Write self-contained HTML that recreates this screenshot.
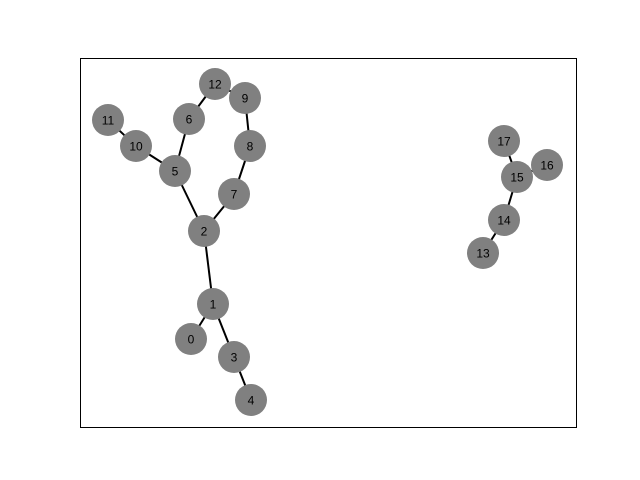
<!DOCTYPE html>
<html><head><meta charset="utf-8"><style>
body{margin:0;background:#fff;}
svg{display:block;font-family:"Liberation Sans","DejaVu Sans",sans-serif;}
</style></head><body>
<svg id="chart" width="640" height="480">
<rect x="80.5" y="58.5" width="496" height="369" fill="#fff" stroke="#000" stroke-width="1"/>
<g id="edges"></g><g id="nodes"></g>
</svg>
<script>
const nodeLabels = [0,1,2,3,4,5,6,7,8,9,10,11,12,13,14,15,16,17];
const nodeX = [191,213,204,234,251,175,189,234,250,245,136,108,215,483,504,517,547,504];
const nodeY = [339,304,231,357,400,171,119,194,146,98,146,120,84,253,220,177,165,141];
const edgeFrom = [0,1,1,3,2,2,5,5,10,6,12,9,8,13,14,15,15];
const edgeTo   = [1,2,3,4,5,7,6,10,11,12,9,8,7,14,15,16,17];
const NS='http://www.w3.org/2000/svg';
const eg=document.getElementById('edges'), ng=document.getElementById('nodes');
for(let i=0;i<edgeFrom.length;i++){
  const a=edgeFrom[i], b=edgeTo[i];
  const l=document.createElementNS(NS,'line');
  l.setAttribute('x1',nodeX[a]);l.setAttribute('y1',nodeY[a]);
  l.setAttribute('x2',nodeX[b]);l.setAttribute('y2',nodeY[b]);
  l.setAttribute('stroke','#000');l.setAttribute('stroke-width','2');
  
  
  eg.appendChild(l);
}
for(let i=0;i<nodeLabels.length;i++){
  const c=document.createElementNS(NS,'circle');
  c.setAttribute('cx',nodeX[i]);c.setAttribute('cy',nodeY[i]);c.setAttribute('r','16');
  c.setAttribute('fill','#808080');
  
  
  ng.appendChild(c);
  const t=document.createElementNS(NS,'text');
  t.setAttribute('x',nodeX[i]);t.setAttribute('y',nodeY[i]+4.5);
  t.setAttribute('text-anchor','middle');t.setAttribute('font-size','12');
  t.textContent=nodeLabels[i];
  
  
  ng.appendChild(t);
}
</script>
</body></html>
